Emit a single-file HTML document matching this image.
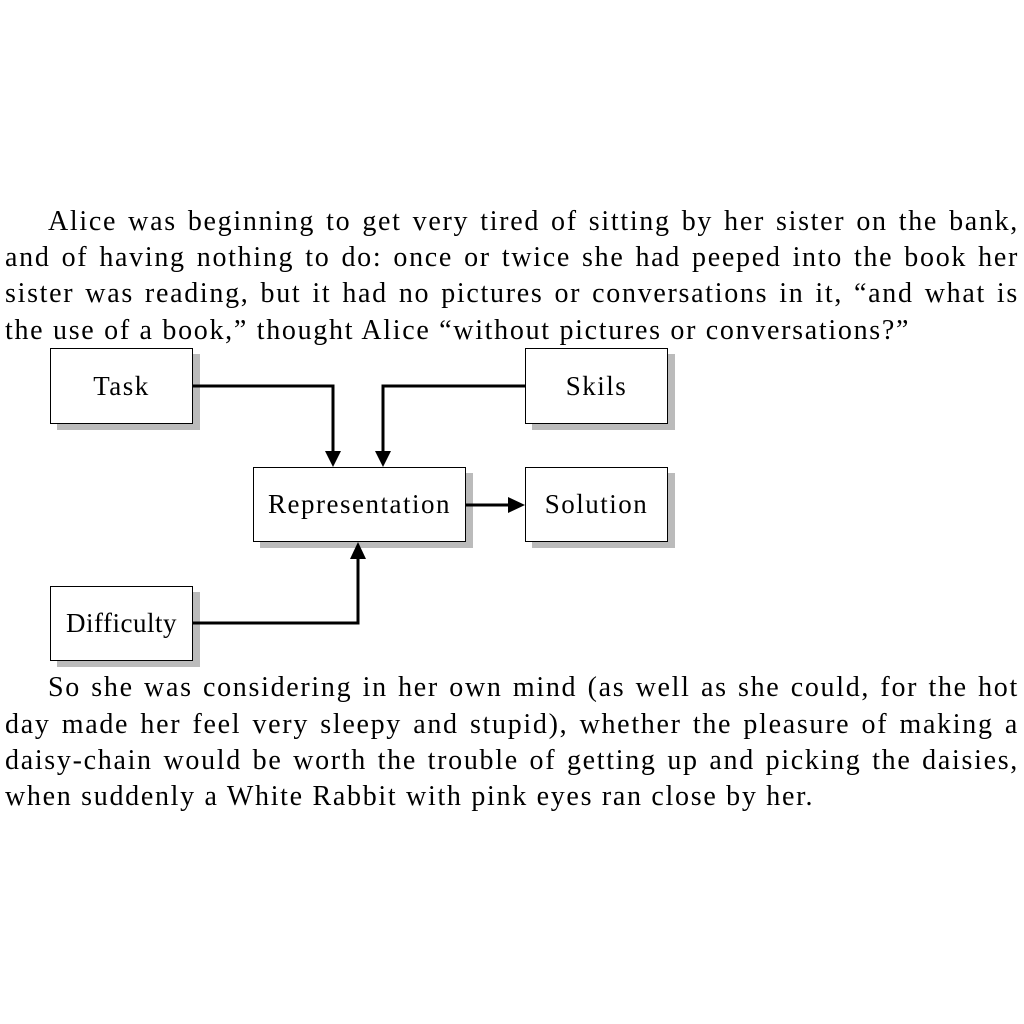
<!DOCTYPE html>
<html><head><meta charset="utf-8"><style>
body{margin:0;width:1024px;height:1024px;background:#fff;position:relative;overflow:hidden;font-family:"Liberation Serif",serif;color:#000}
.l{position:absolute;left:5px;width:1014px;font-size:28px;letter-spacing:1.7px;line-height:30px;text-align:justify;text-align-last:justify;white-space:nowrap}
.l.last{text-align-last:left}
.b{position:absolute;background:#fff;border:1.5px solid #000;box-sizing:border-box;font-size:27px;letter-spacing:1.5px;display:flex;align-items:center;justify-content:center;box-shadow:7px 6px 0 #bbb}
svg{z-index:2}
</style></head><body>
<div class="l" style="top:207px;left:48px;width:971px">Alice was beginning to get very tired of sitting by her sister on the bank,</div>
<div class="l" style="top:243px">and of having nothing to do: once or twice she had peeped into the book her</div>
<div class="l" style="top:279px">sister was reading, but it had no pictures or conversations in it, “and what is</div>
<div class="l last" style="top:316px">the use of a book,” thought Alice “without pictures or conversations?”</div>

<div class="b" style="left:50px;top:348px;width:143px;height:76px">Task</div>
<div class="b" style="left:525px;top:348px;width:143px;height:76px">Skils</div>
<div class="b" style="left:253px;top:467px;width:213px;height:75px">Representation</div>
<div class="b" style="left:525px;top:467px;width:143px;height:75px">Solution</div>
<div class="b" style="left:50px;top:586px;width:143px;height:75px;letter-spacing:0.5px">Difficulty</div>

<svg style="position:absolute;left:0;top:0" width="1024" height="1024">
<g stroke="#000" stroke-width="3" fill="none">
<polyline points="193,386 333,386 333,452"/>
<polyline points="525,386 383,386 383,452"/>
<polyline points="466,505 510,505"/>
<polyline points="193,623 358,623 358,557"/>
</g>
<g fill="#000">
<polygon points="325,451 341,451 333,467"/>
<polygon points="375,451 391,451 383,467"/>
<polygon points="508,497 508,513 525,505"/>
<polygon points="350,559 366,559 358,542"/>
</g>
</svg>

<div class="l" style="top:673px;left:48px;width:971px">So she was considering in her own mind (as well as she could, for the hot</div>
<div class="l" style="top:710px">day made her feel very sleepy and stupid), whether the pleasure of making a</div>
<div class="l" style="top:746px">daisy-chain would be worth the trouble of getting up and picking the daisies,</div>
<div class="l last" style="top:782px">when suddenly a White Rabbit with pink eyes ran close by her.</div>
</body></html>
